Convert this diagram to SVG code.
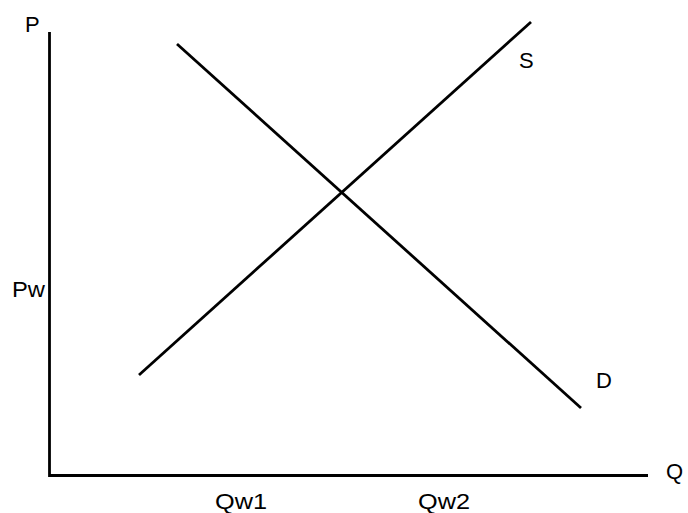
<svg xmlns="http://www.w3.org/2000/svg" width="688" height="513" viewBox="0 0 688 513">
<style>
.ln{stroke:#000;stroke-width:2.8;fill:none}
.t{font-family:"Liberation Sans",Arial,sans-serif;font-size:22px;fill:#000}
</style>
<rect width="688" height="513" fill="#fff"/>
<g id="axes">
<path class="ln" d="M49.5,32 V475.5 H648"/>
</g>
<g id="connectors">
<line id="S-curve" class="ln" x1="139" y1="375" x2="531" y2="22"/>
<line id="D-curve" class="ln" x1="177" y1="44" x2="581" y2="408"/>
</g>
<g id="labels">
<text class="t" x="25" y="32">P</text>
<text class="t" x="12" y="297" textLength="33" lengthAdjust="spacingAndGlyphs">Pw</text>
<text class="t" x="666" y="479">Q</text>
<text class="t" x="215" y="509" textLength="52" lengthAdjust="spacingAndGlyphs">Qw1</text>
<text class="t" x="418" y="509" textLength="52" lengthAdjust="spacingAndGlyphs">Qw2</text>
<text class="t" x="519" y="68">S</text>
<text class="t" x="596" y="388">D</text>
</g>
</svg>
